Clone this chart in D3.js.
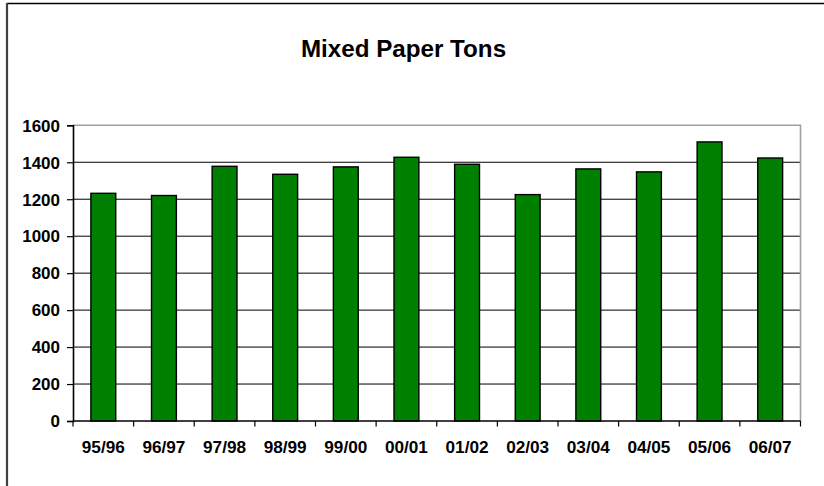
<!DOCTYPE html>
<html>
<head>
<meta charset="utf-8">
<script src="https://cdn.jsdelivr.net/npm/d3@7"></script>
<style>
  html, body { margin: 0; padding: 0; background: #fff; }
  svg { display: block; }
  text { font-family: "Liberation Sans", Arial, sans-serif; font-weight: bold; fill: #000; }
</style>
</head>
<body>
<svg id="chart" width="824" height="486"></svg>
<script>
const categories = ["95/96","96/97","97/98","98/99","99/00","00/01","01/02","02/03","03/04","04/05","05/06","06/07"];
const tons = [1232, 1220, 1378, 1335, 1375, 1427, 1389, 1225, 1364, 1348, 1510, 1423];
const yTicks = [0, 200, 400, 600, 800, 1000, 1200, 1400, 1600];
const title = "Mixed Paper Tons";

const svg = d3.select("#chart");
const W = 824, H = 486;
const plot = { left: 73, right: 800.5, top: 125.3, bottom: 421 };

// outer chart frame (top and left edges visible)
svg.append("line").attr("x1", 7).attr("x2", W).attr("y1", 3.5).attr("y2", 3.5)
  .attr("stroke", "#000").attr("stroke-width", 1.5);
svg.append("line").attr("x1", 7).attr("x2", 7).attr("y1", 3).attr("y2", H)
  .attr("stroke", "#404040").attr("stroke-width", 2.2);

// title
svg.append("text").attr("x", 403.5).attr("y", 56.5).attr("text-anchor", "middle")
  .style("font-size", "24.2px").text(title);

const y = d3.scaleLinear().domain([0, 1600]).range([plot.bottom, plot.top]);
const xCat = d3.scaleBand().domain(categories).range([plot.left, plot.right]).padding(0);
const xBar = d3.scaleBand().domain(categories).range([plot.left, plot.right])
  .paddingInner(0.59).paddingOuter(0.295);

// gridlines
svg.append("g").selectAll("line").data(yTicks.filter(t => t > 0 && t < 1600)).join("line")
  .attr("x1", plot.left).attr("x2", plot.right)
  .attr("y1", d => y(d)).attr("y2", d => y(d))
  .attr("stroke", "#000").attr("stroke-width", 1);

// plot frame top/right (gray)
svg.append("path")
  .attr("d", `M${plot.left},${y(1600)}H${plot.right}V${plot.bottom}`)
  .attr("fill", "none").attr("stroke", "#a0a0a0").attr("stroke-width", 1.6);

// bars
svg.append("g").selectAll("rect").data(categories).join("rect")
  .attr("x", d => xBar(d))
  .attr("width", xBar.bandwidth())
  .attr("y", (d, i) => y(tons[i]))
  .attr("height", (d, i) => y(0) - y(tons[i]))
  .attr("fill", "#008000").attr("stroke", "#000").attr("stroke-width", 1.4);

// y axis
const yAxis = d3.axisLeft(y).tickValues(yTicks).tickSize(6).tickPadding(7).tickFormat(d3.format("d"));
const gy = svg.append("g").attr("transform", `translate(${plot.left},0)`).call(yAxis);
gy.attr("font-size", null).attr("font-family", null);
gy.select(".domain").attr("stroke", "#000").attr("stroke-width", 1.6);
gy.selectAll(".tick line").attr("stroke", "#000").attr("stroke-width", 1.2);
gy.selectAll(".tick text").style("font-size", "17px")
  .attr("dy", "0.34em");

// x axis: ticks at category boundaries
const boundaries = categories.map(c => xCat(c)).concat([plot.right]);
const gx = svg.append("g");
gx.append("line").attr("x1", plot.left).attr("x2", plot.right)
  .attr("y1", plot.bottom).attr("y2", plot.bottom).attr("stroke", "#000").attr("stroke-width", 1.6);
gx.selectAll("line.tk").data(boundaries).join("line").attr("class", "tk")
  .attr("x1", d => d).attr("x2", d => d)
  .attr("y1", plot.bottom).attr("y2", plot.bottom + 5.5)
  .attr("stroke", "#000").attr("stroke-width", 1.2);
gx.selectAll("text").data(categories).join("text")
  .attr("x", d => xCat(d) + xCat.bandwidth() / 2)
  .attr("y", 453.3)
  .attr("text-anchor", "middle")
  .style("font-size", "17.2px")
  .text(d => d);
</script>
</body>
</html>
